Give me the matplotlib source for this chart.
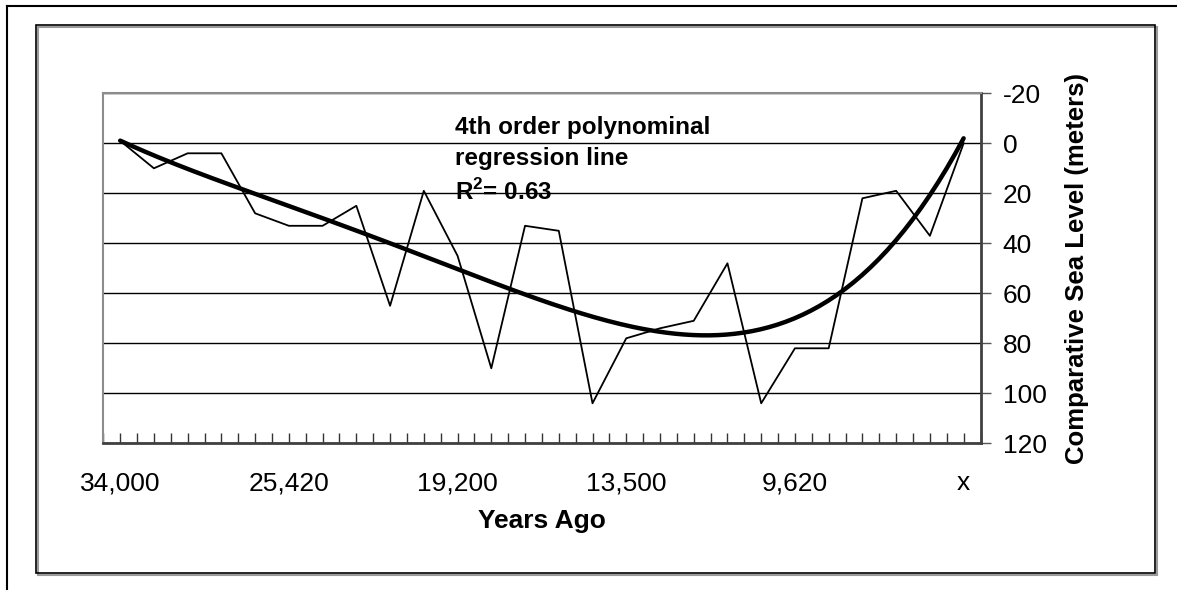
import matplotlib

matplotlib.use("Agg")
import matplotlib.pyplot as plt
import numpy as np
from matplotlib.lines import Line2D
from matplotlib.patches import Rectangle
from matplotlib.ticker import FixedLocator

# one sample per category, left (oldest) to right
sea_level = [-1, 10, 4, 4, 28, 33, 33, 25, 65, 19, 45, 90, 33,
             35, 104, 78, 74, 71, 48, 104, 82, 82, 22, 19, 37, 0]
label_positions = [0, 5, 10, 15, 20, 25]
tick_labels = ["34,000", "25,420", "19,200", "13,500", "9,620", "x"]
y_ticks = [-20, 0, 20, 40, 60, 80, 100, 120]

W, H = 1177, 590
plt.rcParams["font.family"] = ["Liberation Sans", "DejaVu Sans"]
plt.rcParams["axes.unicode_minus"] = False

fig = plt.figure(figsize=(W / 100, H / 100), dpi=100)


def px_box(x0, y0, x1, y1):
    # pixel box (top-left origin) -> figure fraction [left, bottom, width, height]
    return [x0 / W, 1 - y1 / H, (x1 - x0) / W, (y1 - y0) / H]


ax = fig.add_axes(px_box(103.3, 93.3, 980.5, 443.3))

x = np.arange(len(sea_level))
y = np.asarray(sea_level, dtype=float)

# 4th order polynomial trendline, as the spreadsheet computes it
coef = np.polyfit(x, y, 4)
xs = np.linspace(x[0], x[-1], 200)
trend = np.polyval(coef, xs)

ax.plot(x, y, color="black", linewidth=1.3, zorder=3)
ax.plot(xs, trend, color="black", linewidth=3.2, zorder=4, solid_capstyle="round")

ax.set_xlim(-0.5, len(sea_level) - 0.5)
ax.set_ylim(120, -20)

# x axis: labelled category centres + boundary ticks
ax.xaxis.set_major_locator(FixedLocator(list(x)))
ax.set_xticklabels([tick_labels[label_positions.index(i)] if i in label_positions else "" for i in x])
ax.xaxis.set_minor_locator(FixedLocator(list(np.arange(-0.5, len(sea_level), 1.0))))
ax.tick_params(axis="x", which="both", direction="in", length=7, width=1, color="#333333")
ax.tick_params(axis="x", which="major", pad=20, labelsize=19)

# y axis on the right
ax.yaxis.tick_right()
ax.set_yticks(y_ticks)
ax.tick_params(axis="y", direction="out", length=7.5, width=1, color="#555555", pad=8.5, labelsize=19)
ax.yaxis.grid(True, color="black", linewidth=1)
ax.set_axisbelow(True)

ax.set_xlabel("Years Ago", fontsize=19, fontweight="bold", labelpad=10)
ax.yaxis.set_label_position("right")
ylab = ax.set_ylabel("Comparative Sea Level (meters)", fontsize=18.5, fontweight="bold")
ylab.set_rotation_mode("anchor")
ylab.set_va("center")
ylab.set_ha("center")
ax.yaxis.set_label_coords((1077 - 103.3) / (980.5 - 103.3), 0.5)

for side in ("top", "left"):
    ax.spines[side].set_color("#8c8c8c")
    ax.spines[side].set_linewidth(1.5)
ax.spines["right"].set_color("#404040")
ax.spines["right"].set_linewidth(2)
ax.spines["bottom"].set_color("#404040")
ax.spines["bottom"].set_linewidth(2)

note_x = (455 - 103.3) / (980.5 - 103.3)
note_lines = ["4th order polynominal", "regression line", "R$^{\\mathbf{2}}$= 0.63"]
note_baselines = [134, 165, 200]
plt.rcParams["mathtext.fontset"] = "custom"
plt.rcParams["mathtext.bf"] = "Liberation Sans:bold"
plt.rcParams["mathtext.rm"] = "Liberation Sans:bold"
for line, base in zip(note_lines, note_baselines):
    ax.text(note_x, (443.3 - base) / 350, line, transform=ax.transAxes,
            fontsize=17.5, fontweight="bold", ha="left", va="baseline", zorder=5)

# chart area frame with a light shadow, plus the outer page edge
fig.patches.append(Rectangle((38 / W, 1 - 575 / H), 1119 / W, 548 / H, transform=fig.transFigure,
                             facecolor="none", edgecolor="#9a9a9a", linewidth=1.5))
fig.patches.append(Rectangle((36 / W, 1 - 573 / H), 1119 / W, 548 / H, transform=fig.transFigure,
                             facecolor="none", edgecolor="black", linewidth=1.2))
fig.lines.append(Line2D([7 / W, 1], [1 - 6 / H, 1 - 6 / H], transform=fig.transFigure,
                        color="black", linewidth=1.5))
fig.lines.append(Line2D([7 / W, 7 / W], [1 - 6 / H, 0], transform=fig.transFigure,
                        color="black", linewidth=1.5))

fig.savefig("out.png", dpi=100)
